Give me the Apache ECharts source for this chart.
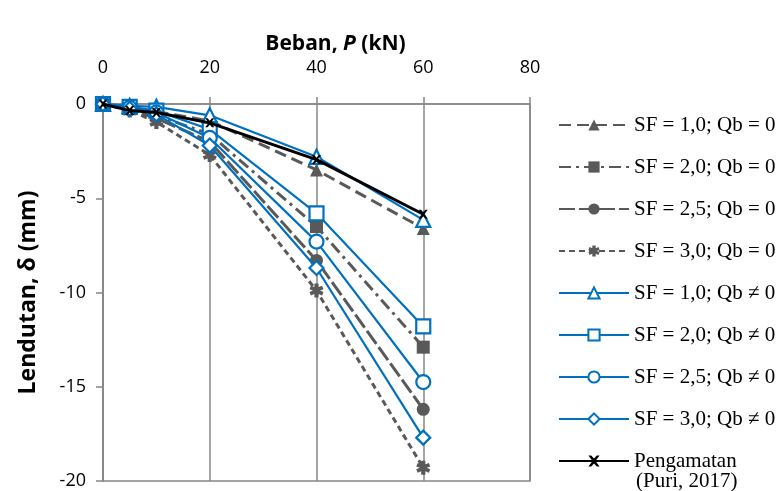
<!DOCTYPE html>
<html>
<head>
<meta charset="utf-8">
<script src="https://cdn.jsdelivr.net/npm/echarts@6/dist/echarts.min.js"></script>
<style>
  html, body { margin: 0; padding: 0; background: #fff; }
  #chart { width: 783px; height: 491px; }
</style>
</head>
<body>
<div id="chart"></div>
<script>
// Load P (kN)
const loads = [0, 5, 10, 20, 40, 60];
const xTicks = [0, 20, 40, 60, 80];
const yTicks = [0, -5, -10, -15, -20];

// Deflection (mm), no base resistance
const sf10Qb0 = [0, -0.2, -0.4, -0.9, -3.5, -6.6];
const sf20Qb0 = [0, -0.25, -0.6, -1.6, -6.5, -12.9];
const sf25Qb0 = [0, -0.3, -0.75, -2.0, -8.3, -16.2];
const sf30Qb0 = [0, -0.35, -0.95, -2.7, -9.9, -19.3];
// Deflection (mm), with base resistance
const sf10Qb = [0, -0.1, -0.15, -0.6, -2.8, -6.15];
const sf20Qb = [0, -0.15, -0.35, -1.35, -5.8, -11.8];
const sf25Qb = [0, -0.2, -0.45, -1.8, -7.3, -14.75];
const sf30Qb = [0, -0.25, -0.55, -2.2, -8.7, -17.7];
// Field observation
const observed = [0, -0.35, -0.45, -1.0, -2.95, -5.85];

const names = [
  'SF = 1,0; Qb = 0', 'SF = 2,0; Qb = 0', 'SF = 2,5; Qb = 0', 'SF = 3,0; Qb = 0',
  'SF = 1,0; Qb \u2260 0', 'SF = 2,0; Qb \u2260 0', 'SF = 2,5; Qb \u2260 0', 'SF = 3,0; Qb \u2260 0',
  'Pengamatan'
];
const sourceNote = '(Puri, 2017)';

const GRAY = '#595959', BLUE = '#0070C0', BLACK = '#000000';
const starPath = 'path://M3.5,0 L6.5,0 L6.5,2.5 L9,1.5 L10,4 L7.5,5 L10,6 L9,8.5 L6.5,7.5 L6.5,10 L3.5,10 L3.5,7.5 L1,8.5 L0,6 L2.5,5 L0,4 L1,1.5 L3.5,2.5 Z';
const crossPath = 'path://M0,0 L2.5,0 L5,2.8 L7.5,0 L10,0 L6.3,5 L10,10 L7.5,10 L5,7.2 L2.5,10 L0,10 L3.7,5 Z';

const pairs = arr => arr.map((v, i) => [loads[i], v]);

function graySeries(name, data, symbol, dash, size) {
  return {
    name, type: 'line', data: pairs(data), symbol, symbolSize: size,
    lineStyle: { color: GRAY, width: 3, type: dash },
    itemStyle: { color: GRAY, borderColor: GRAY, borderWidth: 0 },
    z: 2
  };
}
function blueSeries(name, data, symbol) {
  return {
    name, type: 'line', data: pairs(data), symbol, symbolSize: 14,
    lineStyle: { color: BLUE, width: 2.2, type: 'solid' },
    itemStyle: { color: '#ffffff', borderColor: BLUE, borderWidth: 2.2 },
    z: 3
  };
}

const series = [
  graySeries(names[0], sf10Qb0, 'triangle', [12, 6], 13),
  graySeries(names[1], sf20Qb0, 'rect', [12, 5, 3, 5], 13),
  graySeries(names[2], sf25Qb0, 'circle', [16, 4], 13),
  graySeries(names[3], sf30Qb0, starPath, [6, 4], 14),
  blueSeries(names[4], sf10Qb, 'triangle'),
  blueSeries(names[5], sf20Qb, 'rect'),
  blueSeries(names[6], sf25Qb, 'circle'),
  blueSeries(names[7], sf30Qb, 'diamond'),
  {
    name: names[8], type: 'line', data: pairs(observed), symbol: crossPath,
    symbolSize: 9,
    lineStyle: { color: BLACK, width: 3 },
    itemStyle: { color: BLACK },
    z: 4
  }
];

const chart = echarts.init(document.getElementById('chart'), null, { renderer: 'canvas' });
chart.setOption({
  animation: false,
  backgroundColor: '#ffffff',
  grid: { left: 103, right: 253, top: 104, bottom: 10, show: true, borderColor: '#878787', borderWidth: 1.5 },
  xAxis: {
    type: 'value', position: 'top', min: xTicks[0], max: xTicks[xTicks.length - 1], interval: 20,
    name: '{b|Beban, }{i|P}{b| (kN)}', nameLocation: 'middle', nameGap: 43,
    nameTextStyle: {
      padding: [0, 0, 0, 38],
      rich: {
        b: { fontFamily: 'Open Sans', fontWeight: 'bold', fontSize: 21, color: '#000' },
        i: { fontFamily: 'Open Sans', fontWeight: 'bold', fontStyle: 'italic', fontSize: 21, color: '#000' }
      }
    },
    axisLine: { show: true, lineStyle: { color: '#878787', width: 1.5 } },
    axisTick: { show: true, inside: false, length: 7, lineStyle: { color: '#878787', width: 1.5 } },
    axisLabel: { fontFamily: 'Open Sans', fontSize: 18, color: '#000', margin: 27 },
    splitLine: { show: true, lineStyle: { color: '#878787', width: 1.5 } }
  },
  yAxis: {
    type: 'value', min: yTicks[yTicks.length - 1], max: yTicks[0], interval: 5,
    name: 'Lendutan, \u03b4 (mm)', nameLocation: 'middle', nameGap: 63,
    nameTextStyle: { fontFamily: 'Open Sans', fontWeight: 'bold', fontSize: 23, color: '#000' },
    axisLine: { show: true, lineStyle: { color: '#878787', width: 1.5 } },
    axisTick: { show: true, inside: false, length: 7, lineStyle: { color: '#878787', width: 1.5 } },
    axisLabel: { fontFamily: 'Open Sans', fontSize: 18, color: '#000', margin: 17 },
    splitLine: { show: false }
  },
  legend: {
    orient: 'vertical', left: 558, top: 114, height: 420, padding: 0,
    itemWidth: 70, itemHeight: 14, itemGap: 20,
    textStyle: { fontFamily: 'Liberation Serif', fontSize: 21, color: '#000', lineHeight: 22 },
    data: names
  },
  graphic: [{
    type: 'text', left: 636, top: 471,
    style: { text: sourceNote, font: '21px "Liberation Serif"', fill: '#000' }
  }],
  series
});
</script>
</body>
</html>
